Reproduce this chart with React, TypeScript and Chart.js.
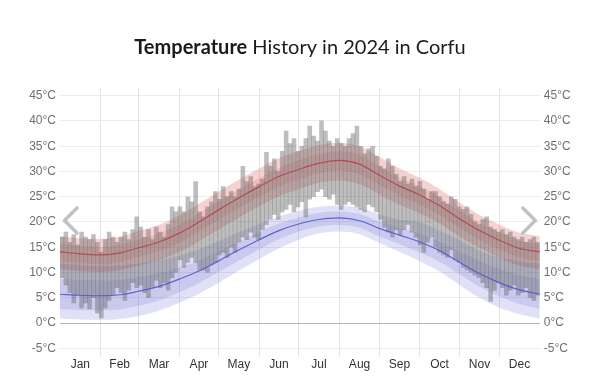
import { useEffect, useRef } from 'react';
import { Chart, registerables } from 'chart.js';

Chart.register(...registerables);

const monthNames = ['Jan', 'Feb', 'Mar', 'Apr', 'May', 'Jun', 'Jul', 'Aug', 'Sep', 'Oct', 'Nov', 'Dec'];
const monthStartDays = [0, 31, 60, 91, 121, 152, 182, 213, 244, 274, 305, 335, 366];
const yTickValues = [-5, 0, 5, 10, 15, 20, 25, 30, 35, 40, 45];

// climatology bands (day of year)
const bandDays = [0, 15, 31, 46, 60, 75, 91, 106, 121, 136, 152, 167, 182, 197, 213, 228, 244, 259, 274, 289, 305, 320, 335, 350, 366];
const highP90 = [17.2, 16.8, 16.7, 17.1, 18.2, 19.4, 21.3, 23.6, 26.0, 28.3, 30.6, 32.6, 34.0, 35.2, 35.7, 35.0, 32.8, 30.6, 28.8, 26.6, 23.8, 21.4, 19.5, 17.9, 17.2];
const highP75 = [15.7, 15.3, 15.1, 15.5, 16.6, 17.7, 19.5, 21.7, 24.1, 26.4, 28.7, 30.7, 32.2, 33.4, 34.0, 33.3, 31.0, 28.8, 27.1, 25.0, 22.2, 19.9, 18.0, 16.4, 15.7];
const highMean = [14.1, 13.7, 13.5, 13.9, 14.9, 16.0, 17.8, 20.0, 22.4, 24.7, 27.0, 29.0, 30.4, 31.6, 32.2, 31.5, 29.2, 27.1, 25.4, 23.3, 20.6, 18.3, 16.4, 14.8, 14.1];
const highP25 = [12.3, 11.9, 11.7, 12.1, 13.1, 14.2, 15.9, 18.1, 20.4, 22.7, 25.0, 27.0, 28.4, 29.6, 30.2, 29.5, 27.3, 25.2, 23.5, 21.4, 18.8, 16.5, 14.6, 13.0, 12.3];
const highP10 = [10.7, 10.3, 10.1, 10.5, 11.4, 12.4, 14.1, 16.2, 18.5, 20.8, 23.1, 25.1, 26.5, 27.7, 28.2, 27.5, 25.4, 23.4, 21.8, 19.8, 17.1, 14.9, 13.0, 11.4, 10.7];
const lowP90 = [11.8, 11.5, 11.3, 11.4, 11.8, 12.4, 13.3, 14.6, 16.2, 17.9, 19.6, 21.1, 22.2, 23.0, 23.2, 22.8, 21.5, 20.5, 20.0, 18.3, 16.4, 14.3, 13.0, 12.2, 11.8];
const lowP75 = [8.7, 8.5, 8.4, 8.5, 9.1, 9.8, 11.0, 12.4, 14.2, 16.1, 18.0, 19.7, 20.9, 21.8, 22.1, 21.6, 20.1, 18.9, 17.7, 16.2, 14.1, 12.3, 10.7, 9.5, 8.7];
const lowMean = [5.7, 5.5, 5.4, 5.6, 6.3, 7.2, 8.7, 10.3, 12.3, 14.4, 16.5, 18.3, 19.6, 20.5, 20.8, 20.3, 18.7, 17.4, 16.1, 14.4, 12.0, 9.8, 8.0, 6.6, 5.7];
const lowP25 = [2.8, 2.6, 2.5, 2.7, 3.4, 4.4, 6.1, 7.9, 10.1, 12.3, 14.6, 16.6, 18.1, 19.1, 19.4, 18.9, 17.1, 15.6, 14.0, 12.2, 9.6, 7.2, 5.3, 3.8, 2.8];
const lowP10 = [0.9, 0.7, 0.6, 0.8, 1.4, 2.4, 4.0, 5.8, 8.0, 10.3, 12.7, 14.8, 16.5, 17.7, 18.1, 17.6, 15.8, 14.1, 12.3, 10.3, 7.5, 5.0, 3.1, 1.8, 0.9];

// 2024 observed ranges, in 3-day blocks
const blockLength = 3;
const rangeHigh = [
  17.0, 18.0, 16.0, 17.5, 15.5, 18.0, 17.0, 16.5, 17.5, 16.0, 14.0,
  16.5, 18.0, 17.0, 16.0, 17.0, 18.0, 16.5, 18.5, 21.0,
  19.0, 17.0, 18.5, 16.5, 19.0, 18.0, 17.0, 19.5, 23.0, 22.0,
  23.0, 22.0, 25.0, 24.0, 28.0, 22.0, 21.0, 23.0, 24.0, 26.0,
  24.5, 27.0, 25.0, 26.0, 25.0, 26.5, 31.0, 28.0, 29.0, 27.0, 27.5,
  28.5, 33.8, 31.0, 32.5, 30.0, 34.0, 38.0, 35.5, 36.5, 34.0,
  35.0, 36.5, 39.0, 37.0, 36.0, 40.0, 38.0, 36.0, 35.0, 36.5,
  35.5, 35.0, 36.5, 37.5, 39.0, 35.0, 33.5, 34.5, 35.0, 33.0, 31.0,
  30.5, 32.5, 31.0, 29.5, 28.0, 29.0, 27.5, 28.5, 27.0,
  28.0, 26.5, 24.5, 26.0, 26.0, 25.0, 24.0, 23.5, 25.0, 24.5, 23.0,
  22.5, 23.0, 21.5, 20.0, 19.5, 20.5, 21.0, 19.0, 18.5, 18.0,
  18.5, 17.5, 18.0, 17.0, 16.5, 17.0, 16.0, 16.5, 17.0, 16.0,
];
const rangeLow = [
  9.0, 7.5, 6.0, 4.0, 5.5, 3.0, 4.0, 2.8, 5.0, 2.0, 1.0,
  3.0, 4.5, 5.5, 7.0, 6.0, 4.5, 6.5, 8.0, 7.0,
  7.5, 6.0, 5.0, 7.0, 8.5, 7.0, 8.0, 6.5, 9.0, 10.0,
  12.5, 11.0, 12.0, 13.0, 12.0, 10.5, 10.5, 10.0, 11.5, 12.0,
  13.5, 14.0, 13.0, 15.0, 14.0, 16.0, 17.0, 16.5, 18.0, 17.0, 16.5,
  18.5, 19.5, 20.5, 21.5, 20.5, 22.0, 22.5, 23.5, 22.0, 23.0,
  24.0, 21.0, 24.5, 25.0, 26.0, 26.5, 25.0, 24.5, 25.5, 23.5,
  22.5, 23.5, 24.0, 23.5, 23.0, 22.5, 22.0, 23.5, 23.0, 22.0, 20.5,
  19.0, 18.0, 17.0, 18.5, 17.5, 18.5, 19.5, 18.0, 17.0,
  15.5, 14.0, 16.0, 17.0, 15.0, 14.0, 13.5, 13.0, 14.5, 12.5, 12.0,
  11.0, 10.5, 10.0, 9.5, 9.0, 8.0, 7.0, 4.3, 6.5, 8.0,
  7.0, 5.5, 6.5, 7.5, 5.5, 6.0, 7.0, 5.0, 4.5, 5.5,
];

const titleBold = 'Temperature';
const titleRest = ' History in 2024 in Corfu';

const monthMids = monthNames.map((_, i) => (monthStartDays[i] + monthStartDays[i + 1]) / 2);
const monthBounds = monthStartDays.slice(1, -1);
const AXIS_FONT = 'Liberation Sans, Arial, sans-serif';

const decorPlugin = {
  id: 'decor',
  afterDraw(chart: any) {
    const c = chart.ctx as CanvasRenderingContext2D;
    const area = chart.chartArea;
    c.save();
    c.fillStyle = '#1b1b1b';
    c.textBaseline = 'alphabetic';
    c.font = 'bold 20px Lato';
    const wb = c.measureText(titleBold).width;
    c.font = '20px Lato';
    const wr = c.measureText(titleRest).width;
    const x0 = chart.width / 2 - (wb + wr) / 2;
    c.font = 'bold 20px Lato';
    c.fillText(titleBold, x0, 54);
    c.font = '20px Lato';
    c.fillText(titleRest, x0 + wb, 54);

    // navigation chevrons
    const cy = 220.5;
    c.lineWidth = 3.5;
    c.lineCap = 'round';
    c.lineJoin = 'round';
    c.strokeStyle = 'rgba(190,190,190,0.95)';
    c.beginPath();
    c.moveTo(area.left + 17, cy - 12.5);
    c.lineTo(area.left + 4.5, cy);
    c.lineTo(area.left + 17, cy + 12.5);
    c.stroke();
    c.beginPath();
    c.moveTo(area.right - 17, cy - 12.5);
    c.lineTo(area.right - 4.5, cy);
    c.lineTo(area.right - 17, cy + 12.5);
    c.stroke();
    c.restore();
  },
};

export default function App() {
  const ref = useRef<HTMLCanvasElement>(null);

  useEffect(() => {
    document.body.style.margin = '0';
    const canvas = ref.current;
    if (!canvas) return;

    const pts = (arr: number[]) => bandDays.map((d, i) => ({ x: d, y: arr[i] }));
    const band = (arr: number[], fill: number | false, color: string) => ({
      type: 'line' as const,
      data: pts(arr),
      borderWidth: 0,
      pointRadius: 0,
      fill: fill === false ? false : { target: fill },
      backgroundColor: color,
      cubicInterpolationMode: 'monotone' as const,
      order: 3,
    });
    const meanLine = (arr: number[], color: string) => ({
      type: 'line' as const,
      data: pts(arr),
      borderWidth: 1.2,
      borderColor: color,
      pointRadius: 0,
      fill: false,
      cubicInterpolationMode: 'monotone' as const,
      order: 1,
    });

    const chart = new Chart(canvas, {
      type: 'bar',
      data: {
        datasets: [
          band(highP10, false, 'transparent'),
          band(highP90, 0, 'rgba(220,70,70,0.25)'),
          band(highP25, false, 'transparent'),
          band(highP75, 2, 'rgba(200,70,70,0.17)'),
          band(lowP10, false, 'transparent'),
          band(lowP90, 4, 'rgba(90,90,210,0.19)'),
          band(lowP25, false, 'transparent'),
          band(lowP75, 6, 'rgba(90,90,195,0.17)'),
          {
            type: 'bar' as const,
            data: rangeHigh.map((h, i) => ({ x: i * blockLength + blockLength / 2, y: [rangeLow[i], h] })),
            backgroundColor: 'rgba(100,100,100,0.42)',
            borderWidth: 0,
            barPercentage: 1,
            categoryPercentage: 1,
            order: 2,
          },
          meanLine(highMean, 'rgba(180,70,70,0.9)'),
          meanLine(lowMean, 'rgba(85,85,205,0.9)'),
        ] as any,
      },
      options: {
        responsive: false,
        animation: false,
        devicePixelRatio: 1,
        layout: { padding: { top: 88, left: 0, right: 0, bottom: 0 } },
        plugins: {
          legend: { display: false },
          tooltip: { enabled: false },
          title: { display: false },
        },
        scales: {
          x: {
            type: 'linear',
            min: 0,
            max: 366,
            offset: false,
            grid: {
              offset: false,
              drawTicks: false,
              color: (ctx: any) => (monthBounds.includes(ctx.tick?.value) ? '#e4e4e4' : 'rgba(0,0,0,0)'),
            },
            border: { display: false },
            afterBuildTicks: (s: any) => {
              s.ticks = [...monthBounds, ...monthMids].map((v) => ({ value: v }));
            },
            afterFit: (s: any) => {
              s.height = 34;
            },
            ticks: {
              autoSkip: false,
              maxRotation: 0,
              padding: 0,
              color: '#333',
              font: { size: 12, family: AXIS_FONT },
              callback: (v: any) => {
                const i = monthMids.indexOf(Number(v));
                return i >= 0 ? monthNames[i] : '';
              },
            },
          },
          y: {
            type: 'linear',
            position: 'left',
            min: -6.72,
            max: 46.52,
            grid: {
              drawTicks: false,
              color: (ctx: any) => (ctx.tick?.value === 0 ? '#b5b5b5' : '#ececec'),
            },
            border: { display: false },
            afterBuildTicks: (s: any) => {
              s.ticks = yTickValues.map((v) => ({ value: v }));
            },
            afterFit: (s: any) => {
              s.width = 60;
            },
            ticks: {
              padding: 4,
              color: '#6f6f6f',
              font: { size: 12, family: AXIS_FONT },
              callback: (v: any) => `${v}°C`,
            },
          },
          y2: {
            type: 'linear',
            position: 'right',
            min: -6.72,
            max: 46.52,
            grid: { display: false, drawTicks: false },
            border: { display: false },
            afterBuildTicks: (s: any) => {
              s.ticks = yTickValues.map((v) => ({ value: v }));
            },
            afterFit: (s: any) => {
              s.width = 60.2;
            },
            ticks: {
              padding: 4,
              color: '#6f6f6f',
              font: { size: 12, family: AXIS_FONT },
              callback: (v: any) => `${v}°C`,
            },
          },
        },
      } as any,
      plugins: [decorPlugin],
    });

    return () => chart.destroy();
  }, []);

  return (
    <div style={{ width: 600, height: 391 }}>
      <canvas ref={ref} width={600} height={391} style={{ display: 'block' }} />
    </div>
  );
}
